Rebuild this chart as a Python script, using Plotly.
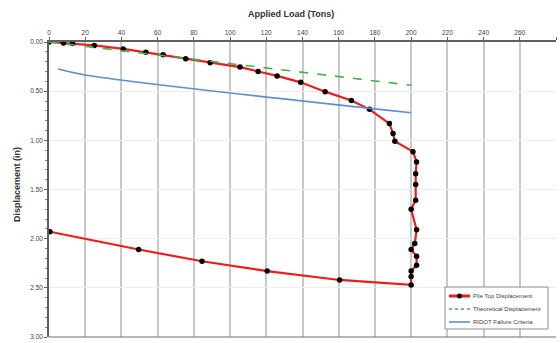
import plotly.graph_objects as go

# Pile load test: measured pile-top displacement (loading then unloading)
pile_load = [0, 8, 13, 25, 41, 53.5, 63, 75.5, 89, 105.5, 115.5, 126, 139, 152.5, 167, 177,
             188, 190, 191, 201, 203, 202.5, 202.5, 202.5, 200, 203, 202, 200, 203, 203, 200,
             200, 200, 160.5, 120.5, 84.5, 49.5, 0.5]
pile_disp = [0.00, 0.01, 0.015, 0.035, 0.07, 0.105, 0.13, 0.17, 0.21, 0.255, 0.30, 0.345,
             0.41, 0.505, 0.595, 0.685, 0.83, 0.93, 1.01, 1.115, 1.22, 1.34, 1.45, 1.61,
             1.70, 1.91, 2.05, 2.11, 2.18, 2.27, 2.33, 2.385, 2.47, 2.42, 2.33, 2.23,
             2.11, 1.93]

# Theoretical elastic compression
theo_load = [0, 200]
theo_disp = [0.00, 0.44]

# RIDOT failure criterion
ridot_load = [5, 20, 200]
ridot_disp = [0.275, 0.335, 0.72]

x_ticks = list(range(0, 281, 20))
y_ticks = [0.0, 0.5, 1.0, 1.5, 2.0, 2.5, 3.0]

series_names = ["Pile Top Displacement", "Theoretical Displacement", "RIDOT Failure Criteria"]
RED, GREEN, BLUE = "#ee1c1c", "#3cb44b", "#5b8fd0"

FONT = "Liberation Sans, Arial, sans-serif"
W, H = 560, 343
ML, MR, MT, MB = 49, 4, 42, 6

fig = go.Figure()
fig.add_trace(go.Scatter(
    x=pile_load, y=pile_disp, mode="lines+markers", name=series_names[0],
    line=dict(color=RED, width=2.2),
    marker=dict(color="black", size=5.5, symbol="circle"),
))
fig.add_trace(go.Scatter(
    x=theo_load, y=theo_disp, mode="lines", name=series_names[1],
    line=dict(color=GREEN, width=1.6, dash="dash"),
))
fig.add_trace(go.Scatter(
    x=ridot_load, y=ridot_disp, mode="lines", name=series_names[2],
    line=dict(color=BLUE, width=1.6, shape="spline"),
))

fig.update_layout(
    width=W, height=H,
    margin=dict(l=ML, r=MR, t=MT, b=MB),
    paper_bgcolor="white", plot_bgcolor="white",
    font=dict(family=FONT, color="#404040", size=7),
    showlegend=False,
    xaxis=dict(
        side="top", range=[0, 280], tickvals=x_ticks,
        ticktext=[str(v) for v in x_ticks], automargin=False,
        showgrid=True, gridcolor="#c8c8c8", gridwidth=1.5,
        showline=True, linecolor="#606060", linewidth=1.5,
        ticks="outside", ticklen=3, tickcolor="#606060",
        tickfont=dict(size=6.5, color="#404040"),
        zeroline=False, mirror=False,
    ),
    yaxis=dict(
        range=[3, 0], tickvals=y_ticks, automargin=False,
        ticktext=[f"{v:.2f}" for v in y_ticks],
        showgrid=True, gridcolor="#ececec", gridwidth=1,
        showline=True, linecolor="#606060", linewidth=1.5,
        ticks="outside", ticklen=3, tickcolor="#606060",
        minor=dict(dtick=0.1, ticks="outside", ticklen=2, tickcolor="#808080", showgrid=False),
        tickfont=dict(size=6.5, color="#404040"),
        zeroline=False,
    ),
)

# axis titles
fig.add_annotation(text="<b>Applied Load (Tons)</b>", xref="paper", yref="paper",
                   x=(291 - ML) / (W - ML - MR), y=1, yshift=28, showarrow=False,
                   xanchor="center", yanchor="middle",
                   font=dict(size=9, color="#333333", family=FONT))
fig.add_annotation(text="<b>Displacement (in)</b>", xref="paper", yref="paper",
                   x=0, xshift=-32, y=0.515, showarrow=False, textangle=-90,
                   xanchor="center", yanchor="middle",
                   font=dict(size=9, color="#333333", family=FONT))

# bottom border of the plot area
fig.add_shape(type="line", xref="paper", yref="paper", x0=0, x1=1, y0=0, y1=0,
              line=dict(color="#707070", width=1.2))


# compact legend box in the lower-right corner (pixel positions -> paper coords)
def px(xp):
    return (xp - ML) / (W - ML - MR)


def py(yp):
    return (H - MB - yp) / (H - MT - MB)


fig.add_shape(type="rect", xref="paper", yref="paper",
              x0=px(445), x1=px(548), y0=py(329), y1=py(287),
              line=dict(color="#8c8c8c", width=1), fillcolor="white", layer="above")
entry_y = [296, 309, 322]
styles = [dict(color=RED, width=3), dict(color=GREEN, width=1.6, dash="dot"),
          dict(color=BLUE, width=1.6)]
for name, yy, st in zip(series_names, entry_y, styles):
    fig.add_shape(type="line", xref="paper", yref="paper",
                  x0=px(449), x1=px(470), y0=py(yy), y1=py(yy), line=st, layer="above")
    fig.add_annotation(text=name, xref="paper", yref="paper", x=px(471), y=py(yy),
                       xanchor="left", yanchor="middle", showarrow=False,
                       font=dict(size=6, color="#404040", family=FONT))
fig.add_shape(type="circle", xref="paper", yref="paper",
              x0=px(457), x1=px(462), y0=py(298.5), y1=py(293.5),
              fillcolor="black", line=dict(color="black", width=0), layer="above")

fig.write_html("out.html")
